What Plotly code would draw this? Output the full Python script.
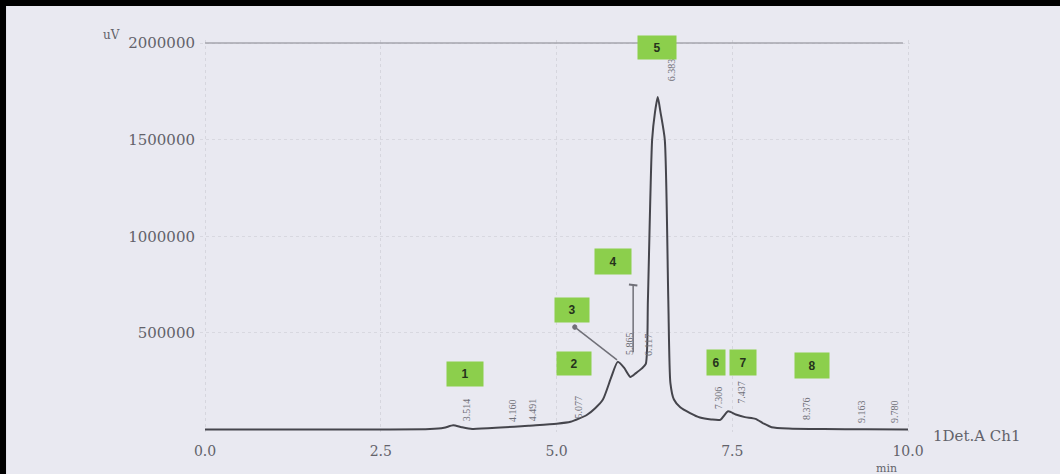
import plotly.graph_objects as go

# ---- data ----
time_min = [0.0, 2.5, 3.2, 3.40, 3.53, 3.65, 3.8, 4.2, 4.6, 5.0, 5.2, 5.43, 5.55, 5.66, 5.78, 5.87,
            5.96, 6.05, 6.13, 6.21, 6.27, 6.30, 6.36, 6.40, 6.44, 6.48, 6.54, 6.59,
            6.62, 6.67, 6.76, 6.90, 7.04, 7.2, 7.33, 7.44, 7.55, 7.68, 7.83, 7.95, 8.06, 8.3, 8.8, 9.4, 10.0]
signal_uv = [0, 0, 2000, 9000, 22000, 12000, 3000, 10000, 20000, 30000, 40000, 75000, 110000, 155000, 272000, 350000,
             320000, 272000, 292000, 315000, 340000, 670000, 1500000, 1640000, 1720000, 1640000, 1500000, 670000,
             240000, 155000, 115000, 85000, 62000, 52000, 50000, 94000, 78000, 64000, 55000, 30000, 12000, 5000, 2000, 1000, 0]

peak_numbers = ["1", "2", "3", "4", "5", "6", "7", "8"]
rt_labels = ["3.514", "4.160", "4.491", "5.077", "5.865", "6.117", "6.383", "7.306", "7.437", "8.376", "9.163", "9.780"]

x_ticks = [0.0, 2.5, 5.0, 7.5, 10.0]
x_tick_text = ["0.0", "2.5", "5.0", "7.5", "10.0"]
y_ticks = [500000, 1000000, 1500000, 2000000]
y_tick_text = ["500000", "1000000", "1500000", "2000000"]

# ---- placement (layout only) ----
rt_label_pos = [(3.73, 101000), (4.38, 101000), (4.67, 101000), (5.31, 116000), (6.03, 447000), (6.30, 437000),
                (6.63, 1860000), (7.30, 163000), (7.62, 194000), (8.55, 106000), (9.33, 95000), (9.80, 95000)]
box_pos = [(3.70, 287000), (5.25, 344000), (5.22, 618000), (5.80, 867000), (6.43, 1979000),
           (7.27, 349000), (7.65, 349000), (8.63, 329000)]
box_w = [36, 34, 34, 36, 38, 18, 26, 34]
box_h = [24, 23, 24, 25, 23, 25, 25, 25]

BG = "#e9e9f1"
TXT = "#62626a"
SERIF = "DejaVu Serif"

fig = go.Figure()
fig.add_trace(go.Scatter(
    x=time_min, y=signal_uv, mode="lines",
    line=dict(color="#45454c", width=2, shape="spline", smoothing=0.6),
    hoverinfo="skip", showlegend=False,
))

annotations = []
for txt, (px, py) in zip(rt_labels, rt_label_pos):
    annotations.append(dict(x=px, y=py, xref="x", yref="y", text=txt, showarrow=False,
                            textangle=-90, font=dict(family="Liberation Serif", size=10, color="#707078")))
for txt, (px, py), w, h in zip(peak_numbers, box_pos, box_w, box_h):
    annotations.append(dict(x=px, y=py, xref="x", yref="y", text="<b>%s</b>" % txt, showarrow=False,
                            bgcolor="#8ccf4c", width=w, height=h, borderpad=0,
                            font=dict(family="Liberation Sans", size=12, color="#26331c")))
annotations += [
    dict(x=-0.125, y=1.012, xref="paper", yref="paper", text="uV", showarrow=False,
         xanchor="center", yanchor="middle", font=dict(family=SERIF, size=12, color=TXT)),
    dict(x=1.03, y=-0.01, xref="paper", yref="paper", text="1Det.A Ch1", showarrow=False,
         xanchor="left", yanchor="middle", font=dict(family=SERIF, size=15, color=TXT)),
    dict(x=0.9676, y=-0.094, xref="paper", yref="paper", text="min", showarrow=False,
         xanchor="center", yanchor="middle", font=dict(family=SERIF, size=11, color=TXT)),
]

shapes = [
    dict(type="line", xref="paper", yref="y", x0=0.007, x1=0.99, y0=2000000, y1=2000000,
         line=dict(color="#a4a4ac", width=1.5)),
    dict(type="line", xref="x", yref="y", x0=5.26, y0=530000, x1=5.86, y1=360000,
         line=dict(color="#707078", width=1.5)),
    dict(type="circle", xref="x", yref="y", x0=5.23, x1=5.29, y0=518000, y1=542000,
         fillcolor="#707078", line=dict(color="#707078", width=1)),
    dict(type="line", xref="x", yref="y", x0=6.09, y0=750000, x1=6.09, y1=400000,
         line=dict(color="#707078", width=1.5)),
    dict(type="line", xref="x", yref="y", x0=6.03, y0=750000, x1=6.15, y1=745000,
         line=dict(color="#707078", width=2)),
    dict(type="rect", xref="paper", yref="paper", x0=-0.2817, x1=1.22, y0=1.0867, y1=1.11,
         fillcolor="black", line=dict(width=0)),
    dict(type="rect", xref="paper", yref="paper", x0=-0.29, x1=-0.2732, y0=-0.12, y1=1.11,
         fillcolor="black", line=dict(width=0)),
]

fig.update_layout(
    width=1060, height=474,
    margin=dict(l=200, r=150, t=40, b=42),
    paper_bgcolor=BG, plot_bgcolor=BG,
    annotations=annotations, shapes=shapes,
    xaxis=dict(range=[-0.0711, 10.028], tickvals=x_ticks, ticktext=x_tick_text,
               showgrid=True, gridcolor="#d6d6de", griddash="dot", gridwidth=1,
               zeroline=False, showline=False, ticks="", ticklabelstandoff=9,
               tickfont=dict(family=SERIF, size=14, color=TXT), fixedrange=True),
    yaxis=dict(range=[-12900, 2015500], tickvals=y_ticks, ticktext=y_tick_text,
               showgrid=True, gridcolor="#d8d8e0", griddash="dot", gridwidth=1,
               zeroline=False, showline=False, ticks="", ticklabelstandoff=4,
               tickfont=dict(family=SERIF, size=15, color=TXT), fixedrange=True),
    showlegend=False,
)

fig.write_html("out.html", config={"displayModeBar": False},
               post_script="document.body.style.margin='0';document.body.style.overflow='hidden';")
